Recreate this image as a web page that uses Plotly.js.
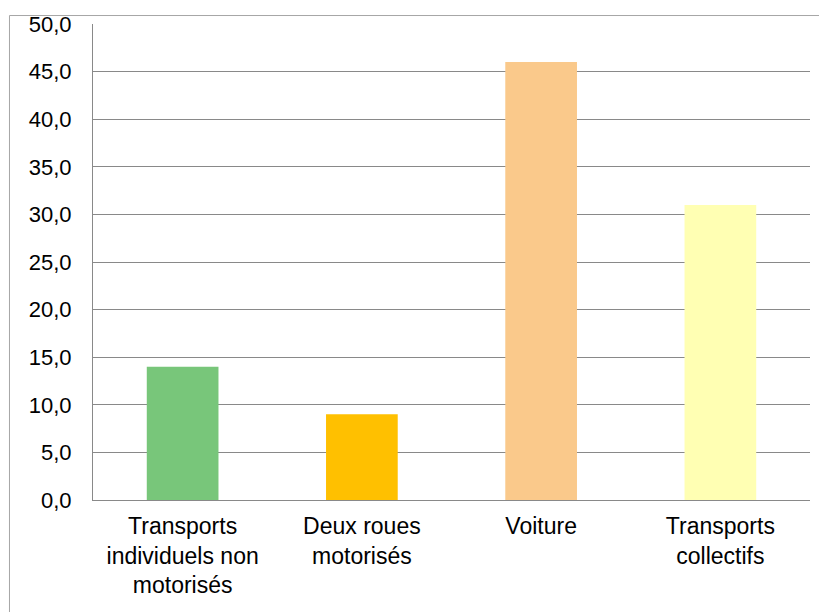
<!DOCTYPE html>
<html>
<head>
<meta charset="utf-8">
<script src="https://cdn.plot.ly/plotly-3.0.1.min.js"></script>
<style>
  html, body { margin: 0; padding: 0; background: #ffffff; }
  #chart { width: 819px; height: 612px; }
</style>
</head>
<body>
<div id="chart"></div>
<script>
const categories = ["Transports individuels non motorisés", "Deux roues motorisés", "Voiture", "Transports collectifs"];
const tickLabels = ["Transports<br>individuels non<br>motorisés", "Deux roues<br>motorisés", "Voiture", "Transports<br>collectifs"];
const values = [14.0, 9.0, 46.0, 31.0];
const barColors = ["#78C67A", "#FFC000", "#FAC98B", "#FFFFB3"];
const yTicks = [0, 5, 10, 15, 20, 25, 30, 35, 40, 45, 50];

const font = "Liberation Sans, Arial, sans-serif";

const trace = {
  type: "bar",
  x: categories,
  y: values,
  marker: { color: barColors, line: { width: 0 } },
  hoverinfo: "x+y"
};

const layout = {
  width: 819,
  height: 612,
  margin: { l: 93, r: 9, t: 23.5, b: 112 },
  paper_bgcolor: "#ffffff",
  plot_bgcolor: "#ffffff",
  separators: ", ",
  showlegend: false,
  bargap: 0.6,
  font: { family: font, size: 22, color: "#000000" },
  xaxis: {
    type: "category",
    tickmode: "array",
    tickvals: categories,
    ticktext: tickLabels,
    showgrid: false,
    showline: true,
    linecolor: "#898989",
    linewidth: 1,
    ticks: "",
    ticklabelstandoff: 5,
    tickfont: { family: font, size: 23, color: "#000000" },
    fixedrange: true
  },
  yaxis: {
    range: [0, 50],
    tickmode: "array",
    tickvals: yTicks,
    tickformat: ".1f",
    showgrid: true,
    gridcolor: "#898989",
    gridwidth: 1,
    zeroline: false,
    showline: true,
    linecolor: "#898989",
    linewidth: 1,
    ticks: "",
    ticklabelstandoff: 16,
    tickfont: { family: font, size: 22, color: "#000000" },
    fixedrange: true
  },
  shapes: [
    { type: "line", xref: "paper", yref: "paper", x0: -0.1165, x1: 1.02, y0: 1.0178, y1: 1.0178, line: { color: "#A6A6A6", width: 1 } },
    { type: "line", xref: "paper", yref: "paper", x0: -0.1165, x1: -0.1165, y0: 1.0178, y1: -0.3, line: { color: "#A6A6A6", width: 1 } }
  ]
};

Plotly.newPlot("chart", [trace], layout, { displayModeBar: false, staticPlot: true });
</script>
</body>
</html>
